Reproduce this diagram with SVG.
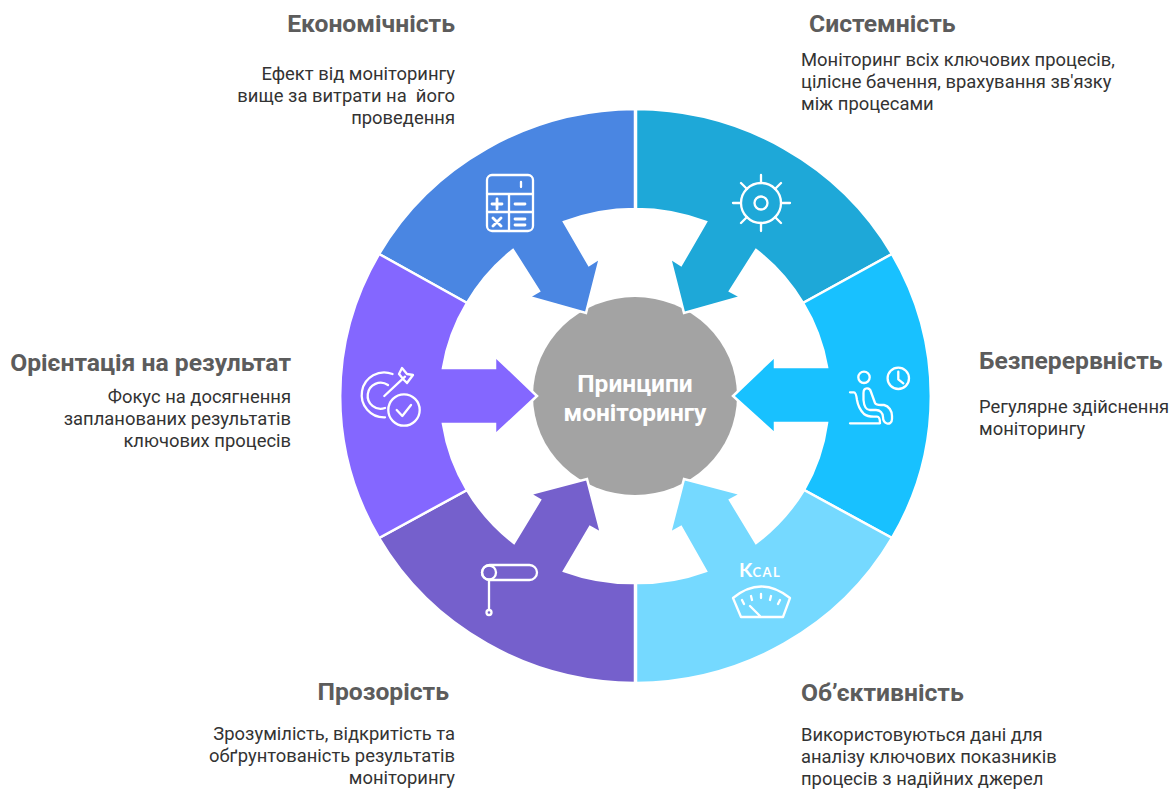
<svg xmlns="http://www.w3.org/2000/svg" width="1171" height="789" viewBox="0 0 1171 789">
<style>
text{font-family:Roboto,"Liberation Sans",sans-serif}
.t{font-size:24.7px;font-weight:700;fill:#5c5c5c}
.b{font-size:18.4px;fill:#333}
.r{text-anchor:end}
.seg{stroke:#fff;stroke-width:2.5;stroke-linejoin:miter}
.i{fill:none;stroke:#fff;stroke-width:2.3;stroke-linecap:round;stroke-linejoin:round}
.c{font-size:24.5px;font-weight:700;fill:#fff;text-anchor:middle}
</style>
<rect width="1171" height="789" fill="#fff"/>
<g id="center"><ellipse cx="635" cy="396" rx="102" ry="99" fill="#a3a3a3"/></g>

<g id="node-economy">
<path class="seg" fill="#4a86e2" d="M635,109A296.500,287 0 0 0 379,254L467,303A193,187 0 0 1 513,250L539,291L529,297L586,313L600,258L589,265L564,222A193,187 0 0 1 635,209Z"/>
<g class="i"><rect x="487" y="175" width="46" height="56" rx="5"/><path d="M487,194H533M509,194V231M487,212H533M521,182V187"/><path stroke-width="2.800" d="M492,204H502M497,199V209M515,204H525M493,218L501,226M501,218L493,226M515,219H525M515,225H525"/></g>
<text class="t r" x="455" y="32">Економічність</text>
<text class="b r" x="455" y="80">Ефект від моніторингу</text>
<text class="b r" x="455" y="102" xml:space="preserve">вище за витрати на  його</text>
<text class="b r" x="455" y="123.500">проведення</text>
</g>

<g id="node-system">
<path class="seg" fill="#1ea8d8" d="M636,109A296.500,287 0 0 1 892,254L803,303A193,187 0 0 0 756,250L730,291L741,297L684,313L670,258L681,265L706,222A193,187 0 0 0 636,209Z"/>
<g class="i"><circle cx="761" cy="203" r="20"/><circle cx="761" cy="203" r="6.5"/><path d="M761,175V183M761,223V231M733,203H741M781,203H790M741,183L747,189M781,183L775,189M741,223L747,217M781,223L775,217"/></g>
<text class="t" x="809" y="32">Системність</text>
<text class="b" x="801" y="66">Моніторинг всіх ключових процесів,</text>
<text class="b" x="801" y="88">цілісне бачення, врахування зв'язку</text>
<text class="b" x="801" y="110">між процесами</text>
</g>

<g id="node-continuity">
<path class="seg" fill="#18c1ff" d="M892,254A296.500,287 0 0 1 892,538L804,490A193,187 0 0 0 827,423H775V434L733,396L775,356V367H827A193,187 0 0 0 803,303Z"/>
<g class="i"><circle cx="864" cy="377.300" r="5.700"/><circle cx="898.300" cy="378.300" r="10.700"/><path d="M898.300,371.700V379.300L903.300,383.300M850,392.300H854C856,392.300 856.500,396 857,400C858,406 861,411 864,414C867,416.500 870,416.700 874,416.700H877C879,416.700 880,420 880,423.300H850"/><path d="M863.500,400V393C863.500,387 870,387 871,392L875,403C876,405 878,405 881,405H884C889,406 892,411 892,416V419C892,423 889,424 887,423.500C884,422.500 883,420 883,417C883,413 880,410 876,410H870C866,410 864,406 863.500,400Z"/></g>
<text class="t" x="979" y="369">Безперервність</text>
<text class="b" x="979" y="413">Регулярне здійснення</text>
<text class="b" x="979" y="435">моніторингу</text>
</g>

<g id="node-objectivity">
<path class="seg" fill="#75d9ff" d="M636,683A296.500,287 0 0 0 892,538L804,490A193,187 0 0 1 756,543L730,500L741,494L684,479L670,533L681,527L706,571A193,187 0 0 1 636,583Z"/>
<text x="739" y="577" font-size="19.500" font-weight="700" fill="#fff" style="font-family:Lato,'Noto Sans',sans-serif">K<tspan font-size="13" letter-spacing="1.500">CAL</tspan></text>
<g class="i"><path d="M733,598Q761,575 790,598L783,617H741ZM742,600L744,604M751,596L752,600M761,594V598M771,596L770,600M780,600L778,604M750,606L760,616"/></g>
<text class="t" x="801" y="701">Об’єктивність</text>
<text class="b" x="801" y="741">Використовуються дані для</text>
<text class="b" x="801" y="763">аналізу ключових показників</text>
<text class="b" x="801" y="784.600">процесів з надійних джерел</text>
</g>

<g id="node-transparency">
<path class="seg" fill="#7560cc" d="M635,683A296.500,287 0 0 1 379,538L467,490A193,187 0 0 0 514,543L540,500L530,494L587,479L601,533L590,527L564,571A193,187 0 0 0 635,583Z"/>
<g class="i"><rect x="482" y="565" width="55" height="15" rx="7.500"/><circle cx="489" cy="572.500" r="7"/><path d="M489,580V609"/><circle cx="489" cy="612.500" r="2.500"/></g>
<text class="t r" x="449" y="700">Прозорість</text>
<text class="b r" x="455" y="740">Зрозумілість, відкритість та</text>
<text class="b r" x="455" y="762">обґрунтованість результатів</text>
<text class="b r" x="455" y="783.500">моніторингу</text>
</g>

<g id="node-result">
<path class="seg" fill="#8467ff" d="M379,254A296.500,287 0 0 0 379,538L467,490A193,187 0 0 1 443,424H495V435L537,396L495,356V368H443A193,187 0 0 1 467,303Z"/>
<g class="i"><path d="M392.500,374A22.500,22.500 0 1 0 385,417.400M388,385A13,13 0 1 0 385,408M384.300,396L405,376.700M399,374L402,368L407,374L413,375L407,383L404,380Z"/><circle cx="404" cy="410" r="15.700"/><path d="M396.700,410L402.300,416L411,405"/></g>
<text class="t r" x="291" y="371">Орієнтація на результат</text>
<text class="b r" x="291" y="403">Фокус на досягнення</text>
<text class="b r" x="291" y="425">запланованих результатів</text>
<text class="b r" x="291" y="446.500">ключових процесів</text>
</g>

<g id="center-label">
<text class="c" x="635" y="392">Принципи</text>
<text class="c" x="635" y="421">моніторингу</text>
</g>
</svg>
